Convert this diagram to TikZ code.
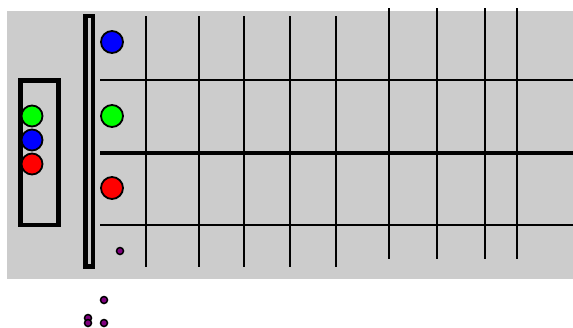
\documentclass[tikz,border=0pt]{standalone}
\usepackage{tikz}
\usetikzlibrary{positioning,calc}
\definecolor{fundo}{HTML}{CCCCCC}
\definecolor{roxo}{HTML}{800080}
\tikzset{
  bola/.style={draw=black, line width=1.8pt, circle, minimum size=22pt, inner sep=0pt},
  bolinha/.style={draw=black, fill=roxo, line width=1.5pt, circle, minimum size=7pt, inner sep=0pt},
  grade/.style={draw=black, line width=2.6pt}
}

\begin{document}
\begin{tikzpicture}[x=1pt, y=-1pt]
        \useasboundingbox (0,0) rectangle (573,327);
        \clip (0,0) rectangle (573,327);
        % fundo cinza
        \fill[fundo] (7,11) rectangle (573,279);

        % caixa da esquerda e barra
        \draw[line width=4.5pt] (20.5,80.5) rectangle (58.5,225);
        \draw[line width=4.5pt, fill=fundo] (85.5,16) rectangle (92.8,266.5);

        % linhas da grade
        \draw[grade] (100,80) -- (573,80);
        \draw[grade, line width=3.2pt] (100,153) -- (573,153);
        \draw[grade] (100,225) -- (573,225);
        \foreach \x in {146,199,244,290,336}
          \draw[grade] (\x,16) -- (\x,267);
        \foreach \x in {389,437,485,517}
          \draw[grade] (\x,8) -- (\x,259);

        % bolas na caixa
        \node[bola, fill=green, minimum size=21pt] (verdeA) at (32,116) {};
        \node[bola, fill=blue, minimum size=21pt] (azulA) at (32,140) {};
        \node[bola, fill=red, minimum size=21pt] (vermelhoA) at (32,164) {};

        % bolas na grade
        \node[bola, fill=blue] (azulB) at (112,42) {};
        \node[bola, fill=green] (verdeB) at (112,116) {};
        \node[bola, fill=red] (vermelhoB) at (112,188) {};
        \node[bolinha] (pontoA) at (120,251) {};

        % pontos soltos embaixo
        \node[bolinha] (pontoB) at (104,300) {};
        \node[bolinha] (pontoC) at (88,318) {};
        \node[bolinha] (pontoD) at (88,323) {};
        \node[bolinha] (pontoE) at (104,323) {};
    \end{tikzpicture}
\end{document}
